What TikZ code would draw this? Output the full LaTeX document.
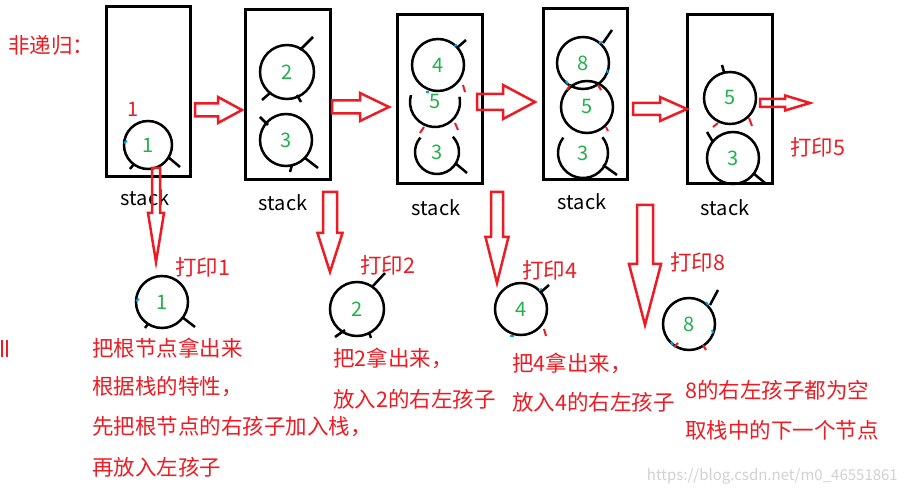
\documentclass[tikz,border=0pt]{standalone}
\usepackage{fontspec}
\setmainfont{Noto Sans CJK SC}
\definecolor{pred}{RGB}{237,28,36}
\definecolor{pgreen}{RGB}{34,177,76}
\definecolor{pblue}{RGB}{0,162,232}
\newcommand\hollowH[6]{\draw[fatarrow] (#1,{#4-#5}) -- (#3,{#4-#5}) -- (#3,{#4-#6}) -- (#2,#4) -- (#3,{#4+#6}) -- (#3,{#4+#5}) -- (#1,{#4+#5}) -- cycle;}
\newcommand\hollowV[6]{\draw[fatarrow] ({#1-#5},#2) -- ({#1-#5},#3) -- ({#1-#6},#3) -- (#1,#4) -- ({#1+#6},#3) -- ({#1+#5},#3) -- ({#1+#5},#2) -- cycle;}
\tikzset{
  stackbox/.style={draw=black, line width=3pt, inner sep=0pt},
  nd/.style={circle, draw=black, line width=2.5pt, minimum size=#1, inner sep=0pt, text=pgreen, font=\fontsize{20}{20}\selectfont},
  nd/.default=52pt,
  ndnb/.style={circle, minimum size=#1, inner sep=0pt, text=pgreen, font=\fontsize{20}{20}\selectfont},
  ndnb/.default=50pt,
  circline/.style={draw=black, line width=2.5pt},
  fatarrow/.style={draw=pred, line width=2.5pt, line join=miter},
  rtext/.style={text=pred, font=\fontsize{21.5}{21.5}\selectfont, anchor=west, inner sep=0pt},
  stacklbl/.style={text=black, font=\fontsize{20}{20}\selectfont, inner sep=0pt},
  stub/.style={draw=black, line width=2.5pt},
  rstub/.style={draw=pred, line width=2pt},
  bmark/.style={draw=pblue, line width=2pt}
}
\begin{document}
\begin{tikzpicture}[x=1pt, y=-1pt]
\useasboundingbox[fill=white] (0,0) rectangle (906,494);

% stack boxes
\node[stackbox, minimum width=84pt, minimum height=170pt] (s1) at (148,92) {};
\node[stackbox, minimum width=85pt, minimum height=170pt] (s2) at (287.5,95) {};
\node[stackbox, minimum width=85pt, minimum height=169pt] (s3) at (439.5,99.5) {};
\node[stackbox, minimum width=84pt, minimum height=171pt] (s4) at (585,94.5) {};
\node[stackbox, minimum width=85pt, minimum height=169pt] (s5) at (729.5,99.5) {};

\node[stacklbl] (l1) at (145,198) {stack};
\node[stacklbl] (l2) at (283,203) {stack};
\node[stacklbl] (l3) at (436,208) {stack};
\node[stacklbl] (l4) at (582,202) {stack};
\node[stacklbl] (l5) at (725,208) {stack};

% nodes inside stacks
\node[nd=48pt] (b1) at (148,145) {1};
\node[text=pred, font=\fontsize{20}{20}\selectfont, inner sep=0pt] (r1) at (133,109) {1};

\node[nd=54pt] (b2a) at (287,72) {2};
\node[nd=52pt] (b2b) at (286,140) {3};

\node[nd=52pt] (b3a) at (438,65) {4};
\node[ndnb] (b3b) at (435,102) {5};
\draw[circline] (b3b.center) ++(-164:25) arc[start angle=-164, end angle=-372, radius=25];
\node[ndnb=44pt] (b3c) at (437,152) {3};
\draw[circline] (b3c.center) ++(-139:22) arc[start angle=-139, end angle=-404, radius=22];

\node[nd=52pt] (b4a) at (583,63) {8};
\node[nd=52pt] (b4b) at (587,107) {5};
\node[ndnb] (b4c) at (583,153) {3};
\draw[circline] (b4c.center) ++(-142:25) arc[start angle=-142, end angle=-399, radius=25];

\node[nd=52pt] (b5a) at (730,98) {5};
\node[nd=52pt] (b5b) at (733,158) {3};

% popped nodes
\node[nd=52pt] (d1) at (162,302) {1};
\node[nd=54pt] (d2) at (357,309) {2};
\node[nd=52pt] (d4) at (521,309) {4};
\node[nd=52pt] (d8) at (689,324) {8};

% black stubs
\draw[stub] (168,157) -- (180,167);
\draw[stub] (134,164) -- (130,169);
\draw[stub] (300,50) -- (313,37);
\draw[stub] (270,93) -- (262,100);
\draw[stub] (297,95) -- (301,102);
\draw[stub] (260,117) -- (268,125);
\draw[stub] (305,158) -- (318,168);
\draw[stub] (292,165) -- (290,172);
\draw[stub] (458,47) -- (466,40);
\draw[stub] (455,163) -- (467,173);
\draw[stub] (603,43) -- (612,30);
\draw[stub] (603,165) -- (617,175);
\draw[stub] (722,65) -- (724,72);
\draw[stub] (707,132) -- (713,142);
\draw[stub] (753,173) -- (765,183);
\draw[stub] (182,317) -- (195,327);
\draw[stub] (148,324) -- (145,328);
\draw[stub] (372,287) -- (385,273);
\draw[stub] (345,330) -- (335,337);
\draw[stub] (369,332) -- (371,338);
\draw[stub] (541,292) -- (549,285);
\draw[stub] (710,305) -- (718,290);

% red stubs
\draw[rstub] (463,85) -- (465,92);
\draw[rstub] (424,127) -- (420,133);
\draw[rstub] (455,123) -- (458,130);
\draw[rstub] (570,85) -- (567,90);
\draw[rstub] (598,85) -- (601,90);
\draw[rstub] (606,127) -- (608,131);
\draw[rstub] (718,123) -- (713,127);
\draw[rstub] (749,118) -- (752,126);
\draw[rstub] (544,329) -- (546,336);
\draw[rstub] (674,347) -- (678,343);
\draw[rstub] (703,345) -- (706,350);

% blue marks
\draw[bmark] (124,143) -- (127,141);
\draw[bmark] (454,46) -- (457,45);
\draw[bmark] (426,92) -- (429,92);
\draw[bmark] (599,43) -- (602,42);
\draw[bmark] (607,70) -- (608,73);
\draw[bmark] (566,81) -- (568,84);
\draw[bmark] (136,301) -- (139,299);
\draw[bmark] (539,290) -- (542,289);
\draw[bmark] (510,336) -- (514,336);
\draw[bmark] (706,302) -- (708,305);
\draw[bmark] (712,330) -- (713,333);
\draw[bmark] (671,342) -- (673,345);

% hollow arrows
\hollowH{195}{242}{218}{110}{6.5}{13}
\hollowH{332}{389}{360}{107}{6.5}{14}
\hollowH{477}{535}{503}{102}{8}{17}
\hollowH{633}{687}{660}{109}{6}{12}
\hollowH{760}{810}{785}{103}{4}{7.5}
\hollowV{156}{168}{213}{262}{4}{8}
\hollowV{330}{192}{233}{272}{7}{12.5}
\hollowV{497}{192}{237}{283}{6}{11.5}
\hollowV{645}{205}{264}{325}{8}{16}

% red texts
\node[rtext] (title) at (8,45) {非递归：};
\node[rtext] (p1) at (175,267) {打印1};
\node[rtext] (p2) at (360,265) {打印2};
\node[rtext] (p4) at (522,270) {打印4};
\node[rtext] (p8) at (670,262) {打印8};
\node[rtext] (p5) at (790,147) {打印5};

\node[rtext] (t11) at (92,348) {把根节点拿出来};
\node[rtext] (t12) at (92,387) {根据栈的特性，};
\node[rtext] (t13) at (92,427) {先把根节点的右孩子加入栈，};
\node[rtext] (t14) at (92,467) {再放入左孩子};

\node[rtext] (t21) at (333,358) {把2拿出来，};
\node[rtext] (t22) at (333,399) {放入2的右左孩子};

\node[rtext] (t31) at (512,363) {把4拿出来，};
\node[rtext] (t32) at (512,402) {放入4的右左孩子};

\node[rtext] (t41) at (685,390) {8的右左孩子都为空};
\node[rtext] (t42) at (685,430) {取栈中的下一个节点};

% red marks at left edge
\draw[pred, line width=2pt] (1.5,340) -- (1.5,357);
\draw[pred, line width=2pt] (6.5,340) -- (6.5,357);

% watermark
\node[text=black!18, font=\fontsize{15}{15}\selectfont, anchor=east, inner sep=0pt] (wm) at (898,476) {https://blog.csdn.net/m0\_46551861};
\end{tikzpicture}
\end{document}
